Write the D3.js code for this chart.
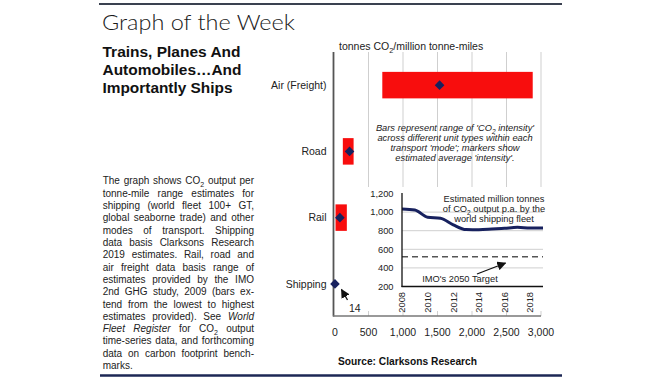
<!DOCTYPE html>
<html><head><meta charset="utf-8">
<script src="https://cdn.jsdelivr.net/npm/d3@7"></script>
<style>body{margin:0;background:#fff} svg{display:block}</style>
</head><body>
<svg id="c" width="670" height="380"></svg>
<script>
// ---------- DATA ----------
const categories = ["Air (Freight)", "Road", "Rail", "Shipping"];
const rangeLow  = [700, 128, 22, null];
const rangeHigh = [2880, 284, 186, null];
const average   = [1530, 225, 85, 14];
const xTicks    = [0, 500, 1000, 1500, 2000, 2500, 3000];

const years     = [2008, 2009, 2010, 2011, 2012, 2013, 2014, 2015, 2016, 2017, 2018, 2019];
const emissions = [1033, 1022, 945, 934, 863, 812, 810, 817, 826, 836, 828, 828];
const insetYTicks = [200, 400, 600, 800, 1000, 1200];
const insetGrid   = [400, 600, 800, 1000];
const yearTicks   = [2008, 2010, 2012, 2014, 2016, 2018];
const imoTarget   = 520;

const titleText = "Graph of the Week";
const subtitleLines = ["Trains, Planes And", "Automobiles\u2026And", "Importantly Ships"];
const bodyLines = [
  "The graph shows CO_2 output per",
  "tonne-mile range estimates for",
  "shipping (world fleet 100+ GT,",
  "global seaborne trade) and other",
  "modes of transport. Shipping",
  "data basis Clarksons Research",
  "2019 estimates. Rail, road and",
  "air freight data basis range of",
  "estimates provided by the IMO",
  "2nd GHG study, 2009 (bars ex-",
  "tend from the lowest to highest",
  "estimates provided). See *World",
  "*Fleet *Register for CO_2 output",
  "time-series data, and forthcoming",
  "data on carbon footprint bench-",
  "marks."
];
const noteLines = [
  "Bars represent range of 'CO_2 intensity'",
  "across different unit types within each",
  "transport 'mode'; markers show",
  "estimated average 'intensity'."
];
const insetNote = ["Estimated million tonnes", "of CO_2 output p.a. by the", "world shipping fleet"];

// ---------- SETUP ----------
const svg = d3.select("#c");
const F = "'Liberation Sans', Arial, Helvetica, sans-serif";
const RED = "#f80d0d", NAVY = "#17215e";

const defs = svg.append("defs");
defs.append("marker").attr("id","ah").attr("viewBox","0 0 10 10").attr("refX",9).attr("refY",5)
  .attr("markerWidth",7).attr("markerHeight",7).attr("orient","auto")
  .append("path").attr("d","M0,0L10,5L0,10z").attr("fill","#111");

// helper: append text with "_2" subscripts and "*word" italics
function rich(sel, str) {
  let italic = false;
  let s = str;
  if (s.startsWith("*")) { italic = true; s = s.slice(1); }
  const parts = s.split(/(_2)/);
  parts.forEach(p => {
    if (p === "_2") {
      sel.append("tspan").attr("font-size","0.7em").attr("baseline-shift","-2.5px").text("2");
    } else if (p.length) {
      const t = sel.append("tspan").text(p);
      if (italic) t.attr("font-style","italic");
    }
  });
  return sel;
}
function richLine(sel, str) {
  str.split(" ").forEach((w, i) => {
    if (i > 0) sel.append("tspan").text(" ");
    rich(sel, w);
  });
  return sel;
}

// frame lines
svg.append("line").attr("x1",99).attr("x2",562).attr("y1",4).attr("y2",4)
  .attr("stroke","#3a4150").attr("stroke-width",2);
svg.append("line").attr("x1",100).attr("x2",562).attr("y1",375.5).attr("y2",375.5)
  .attr("stroke","#1d2755").attr("stroke-width",2.5);

// title
svg.append("text").attr("x",102).attr("y",30)
  .attr("font-family","Lato, 'Open Sans', 'Liberation Sans', sans-serif").attr("font-weight",300)
  .attr("font-size",21.5).attr("fill","#1a1a1a")
  .attr("textLength",193).attr("lengthAdjust","spacingAndGlyphs").text(titleText);

// subtitle
const subW = [138, 139, 130];
subtitleLines.forEach((l, i) => {
  svg.append("text").attr("x",102.5).attr("y",57 + i*18)
    .attr("font-family",F).attr("font-weight","bold").attr("font-size",14.5).attr("fill","#111")
    .attr("textLength",subW[i]).attr("lengthAdjust","spacingAndGlyphs").text(l);
});

// body paragraph, justified
const bodyX0 = 102.7, bodyX1 = 254, bodyY0 = 184.2, bodyLH = 12.33;
bodyLines.forEach((line, li) => {
  const y = bodyY0 + li*bodyLH;
  const words = line.split(" ");
  const nodes = words.map(w => {
    const t = svg.append("text").attr("y", y).attr("x", 0)
      .attr("font-family",F).attr("font-size",10).attr("fill","#222");
    rich(t, w);
    return t;
  });
  const widths = nodes.map(n => n.node().getComputedTextLength());
  const total = d3.sum(widths);
  const last = li === bodyLines.length - 1;
  const gap = (last || words.length < 2) ? 2.8 : (bodyX1 - bodyX0 - total) / (words.length - 1);
  let x = bodyX0;
  nodes.forEach((n, i) => { n.attr("x", x); x += widths[i] + gap; });
});

// ---------- MAIN CHART ----------
const x = d3.scaleLinear().domain([0, 3000]).range([334, 541]);
const y = d3.scalePoint().domain(categories).range([52, 317]).padding(0.5);
const barH = y.step() * 0.4;

// gridlines
svg.append("g").selectAll("line").data(xTicks.filter(d => d > 0)).join("line")
  .attr("x1", d => x(d)).attr("x2", d => x(d)).attr("y1", 52).attr("y2", 316)
  .attr("stroke", "#cfcfcf").attr("stroke-width", 1);

// axis title
const at = svg.append("text").attr("x", 339).attr("y", 49.5)
  .attr("font-family",F).attr("font-size",10.5).attr("fill","#222");
richLine(at, "tonnes CO_2/million tonne-miles");

// x tick labels
svg.append("g").selectAll("text").data(xTicks).join("text")
  .attr("x", d => x(d) + (d === 0 ? 1 : 0)).attr("y", 336)
  .attr("text-anchor","middle").attr("font-family",F).attr("font-size",10.5).attr("fill","#222")
  .text(d => d3.format(",")(d));

// category labels
svg.append("g").selectAll("text").data(categories).join("text")
  .attr("x", 326.5).attr("y", d => y(d)).attr("dy","0.35em")
  .attr("text-anchor","end").attr("font-family",F).attr("font-size",10.5).attr("fill","#222")
  .text(d => d);

// note
noteLines.forEach((l, i) => {
  const t = svg.append("text").attr("x", 455).attr("y", 130.5 + i*10.2)
    .attr("text-anchor","middle").attr("font-family",F).attr("font-style","italic")
    .attr("font-size",9.3).attr("fill","#222");
  richLine(t, l);
});

// range bars
const barData = categories.map((c, i) => ({c, lo: rangeLow[i], hi: rangeHigh[i], avg: average[i]}));
svg.append("g").selectAll("rect").data(barData.filter(d => d.lo != null)).join("rect")
  .attr("x", d => x(d.lo)).attr("width", d => x(d.hi) - x(d.lo))
  .attr("y", d => y(d.c) - barH/2).attr("height", barH)
  .attr("fill", RED);

// ---------- INSET ----------
svg.append("rect").attr("x", 352).attr("y", 187).attr("width", 196).attr("height", 124).attr("fill", "#fff");

const ix = d3.scaleLinear().domain([2008, 2019]).range([402, 543]);
const iy = d3.scaleLinear().domain([200, 1200]).range([286.5, 193.5]);

svg.append("g").selectAll("line").data(insetGrid).join("line")
  .attr("x1", 402).attr("x2", 543).attr("y1", d => iy(d)).attr("y2", d => iy(d))
  .attr("stroke", "#cfcfcf");

svg.append("g").selectAll("text").data(insetYTicks).join("text")
  .attr("x", 393.5).attr("y", d => iy(d)).attr("dy","0.35em").attr("text-anchor","end")
  .attr("font-family",F).attr("font-size",9.3).attr("fill","#222")
  .text(d => d3.format(",")(d));

svg.append("g").selectAll("text").data(yearTicks).join("text")
  .attr("transform", d => `translate(${ix(d) + 3.3},292) rotate(-90)`)
  .attr("text-anchor","end").attr("font-family",F).attr("font-size",9.3).attr("fill","#222")
  .text(d => d);

// IMO target dashed
svg.append("line").attr("x1", 402).attr("x2", 543).attr("y1", iy(imoTarget)).attr("y2", iy(imoTarget))
  .attr("stroke", "#555").attr("stroke-width", 1.5).attr("stroke-dasharray", "6,4");

// emissions line
svg.append("path").datum(years.map((yr, i) => [yr, emissions[i]]))
  .attr("d", d3.line().x(d => ix(d[0])).y(d => iy(d[1])).curve(d3.curveMonotoneX))
  .attr("fill", "none").attr("stroke", NAVY).attr("stroke-width", 3);

// inset axes
svg.append("line").attr("x1", 402).attr("x2", 402).attr("y1", 193).attr("y2", 287)
  .attr("stroke", "#111").attr("stroke-width", 1.3);
svg.append("line").attr("x1", 401.5).attr("x2", 543).attr("y1", 286.5).attr("y2", 286.5)
  .attr("stroke", "#111").attr("stroke-width", 1.3);

// inset notes
insetNote.forEach((l, i) => {
  const t = svg.append("text").attr("x", 494).attr("y", 201.5 + i*10.4)
    .attr("text-anchor","middle").attr("font-family",F).attr("font-size",9.3).attr("fill","#222");
  richLine(t, l);
});
svg.append("text").attr("x", 460).attr("y", 282.3).attr("text-anchor","middle")
  .attr("font-family",F).attr("font-size",9.3).attr("fill","#222").text("IMO's 2050 Target");
svg.append("line").attr("x1", 477).attr("y1", 274).attr("x2", 505.5).attr("y2", 263)
  .attr("stroke","#111").attr("stroke-width",1.3).attr("marker-end","url(#ah)");

// ---------- AXES & MARKERS on top ----------
svg.append("line").attr("x1", 333.5).attr("x2", 333.5).attr("y1", 52).attr("y2", 316.5)
  .attr("stroke", "#555").attr("stroke-width", 1.8);
svg.append("line").attr("x1", 333).attr("x2", 541).attr("y1", 316).attr("y2", 316)
  .attr("stroke", "#777").attr("stroke-width", 1.3);

svg.append("g").selectAll("path").data(barData).join("path")
  .attr("d", d3.symbol().type(d3.symbolSquare).size(46))
  .attr("transform", d => `translate(${x(d.avg)},${y(d.c)}) rotate(45)`)
  .attr("fill", NAVY);

// "14" annotation
svg.append("line").attr("x1", 347.5).attr("y1", 300).attr("x2", 341.5).attr("y2", 289.5)
  .attr("stroke","#111").attr("stroke-width",1.3).attr("marker-end","url(#ah)");
svg.append("text").attr("x", 349).attr("y", 311.5).attr("font-family",F).attr("font-size",10.5)
  .attr("fill","#222").text(average[3]);

// source
svg.append("text").attr("x", 338).attr("y", 364.5).attr("font-family",F).attr("font-weight","bold")
  .attr("font-size",10.5).attr("fill","#111").attr("textLength",139).attr("lengthAdjust","spacingAndGlyphs")
  .text("Source: Clarksons Research");
</script>
</body></html>
